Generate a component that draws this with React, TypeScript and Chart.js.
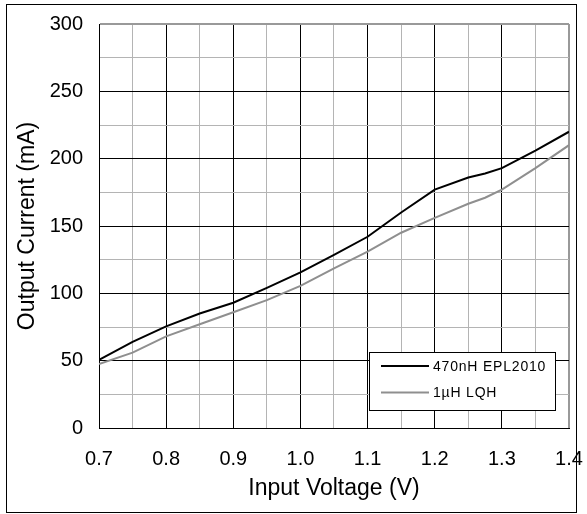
import React, { useEffect, useRef } from "react";
import { Chart, registerables } from "chart.js";

Chart.register(...registerables);

const voltages = [0.7, 0.75, 0.8, 0.85, 0.9, 0.95, 1.0, 1.05, 1.1, 1.15, 1.2, 1.25, 1.275, 1.3, 1.35, 1.4];
const epl2010 = [50.5, 64, 75.5, 85, 93, 104, 115.5, 128.5, 142, 160, 177, 186, 189, 193, 206, 220];
const lqh = [47.5, 56, 68, 77, 86, 95, 105.5, 118.5, 131, 145, 156, 166.5, 171, 177, 193, 210];
const seriesLabels = ["470nH EPL2010", "1µH LQH"];
const yTicksMax = 300;

const FONT = "'Liberation Sans', Arial, sans-serif";

const legendPlugin = {
  id: "boxLegend",
  afterDraw(chart: any) {
    const ctx = chart.ctx;
    const x0 = 369.5, y0 = 352.5, w = 186, h = 58;
    ctx.save();
    ctx.fillStyle = "#fff";
    ctx.fillRect(x0, y0, w, h);
    ctx.strokeStyle = "#000";
    ctx.lineWidth = 1;
    ctx.strokeRect(x0, y0, w, h);
    chart.data.datasets.forEach((ds: any, i: number) => {
      const y = 366 + i * 26.5;
      ctx.strokeStyle = ds.borderColor;
      ctx.lineWidth = 2;
      ctx.beginPath();
      ctx.moveTo(381, y);
      ctx.lineTo(429, y);
      ctx.stroke();
      ctx.fillStyle = "#000";
      ctx.font = `14px ${FONT}`;
      try { (ctx as any).letterSpacing = "0.8px"; } catch (e) {}
      ctx.textBaseline = "middle";
      ctx.textAlign = "left";
      ctx.fillText(ds.label, 433, y + 1);
    });
    ctx.restore();
  },
};

export default function App() {
  const ref = useRef<HTMLCanvasElement>(null);
  useEffect(() => {
    if (!ref.current) return;
    const isMul = (v: number, step: number) => Math.abs(v / step - Math.round(v / step)) < 1e-6;
    const chart = new Chart(ref.current, {
      type: "line",
      data: {
        datasets: [
          {
            label: seriesLabels[0],
            data: voltages.map((x, i) => ({ x, y: epl2010[i] })),
            borderColor: "#000000",
            borderWidth: 2,
            pointRadius: 0,
            tension: 0,
          },
          {
            label: seriesLabels[1],
            data: voltages.map((x, i) => ({ x, y: lqh[i] })),
            borderColor: "#8f8f8f",
            borderWidth: 2,
            pointRadius: 0,
            tension: 0,
          },
        ],
      },
      options: {
        animation: false,
        responsive: false,
        devicePixelRatio: 1,
        layout: { padding: { left: 0, top: 24, right: 18, bottom: 0 } },
        plugins: { legend: { display: false }, tooltip: { enabled: false } },
        scales: {
          x: {
            type: "linear",
            min: 0.7,
            max: 1.4,
            afterFit: (s: any) => {
              s.height = 86;
              s.paddingLeft = 0;
              s.paddingRight = 0;
            },
            border: { display: true, color: "#000", width: 1 },
            grid: {
              drawTicks: false,
              color: (c: any) => {
                const v = c.tick?.value ?? 0;
                if (Math.abs(v - 1.4) < 1e-6) return "#999999";
                return isMul(v, 0.1) ? "#000000" : "#b4b4b4";
              },
              lineWidth: (c: any) => {
                const v = c.tick?.value ?? 0;
                return Math.abs(v - 1.4) < 1e-6 ? 2 : 1;
              },
            },
            ticks: {
              stepSize: 0.05,
              autoSkip: false,
              maxRotation: 0,
              padding: 19,
              color: "#000",
              font: { family: FONT, size: 20 },
              callback: (v: any) => (isMul(Number(v), 0.1) ? Number(v).toFixed(1) : ""),
            },
            title: {
              display: true,
              text: "Input Voltage (V)",
              color: "#000",
              font: { family: FONT, size: 23 },
              padding: { top: 0, bottom: 11.5 },
            },
          },
          y: {
            min: 0,
            max: yTicksMax,
            afterFit: (s: any) => {
              s.width = 99;
              s.paddingTop = 0;
              s.paddingBottom = 0;
            },
            border: { display: true, color: "#000", width: 1 },
            grid: {
              drawTicks: false,
              color: (c: any) => {
                const v = c.tick?.value ?? 0;
                if (v === yTicksMax) return "#999999";
                return isMul(v, 50) ? "#000000" : "#b4b4b4";
              },
              lineWidth: (c: any) => (c.tick?.value === yTicksMax ? 2 : 1),
            },
            ticks: {
              stepSize: 25,
              autoSkip: false,
              padding: 16,
              color: "#000",
              font: { family: FONT, size: 20 },
              callback: (v: any) => (isMul(Number(v), 50) ? String(v) : ""),
            },
            title: {
              display: true,
              text: "Output Current (mA)",
              color: "#000",
              font: { family: FONT, size: 23 },
              padding: { top: 14, bottom: 0 },
            },
          },
        },
      },
      plugins: [legendPlugin],
    } as any);
    return () => chart.destroy();
  }, []);

  return (
    <div style={{ position: "absolute", left: 0, top: 0, width: 587, height: 514, background: "#fff" }}>
      <canvas ref={ref} width={587} height={514} style={{ position: "absolute", left: 0, top: 0 }} />
      <div
        style={{
          position: "absolute",
          left: 6,
          top: 4,
          width: 569,
          height: 507,
          border: "1px solid #000",
          pointerEvents: "none",
        }}
      />
    </div>
  );
}
